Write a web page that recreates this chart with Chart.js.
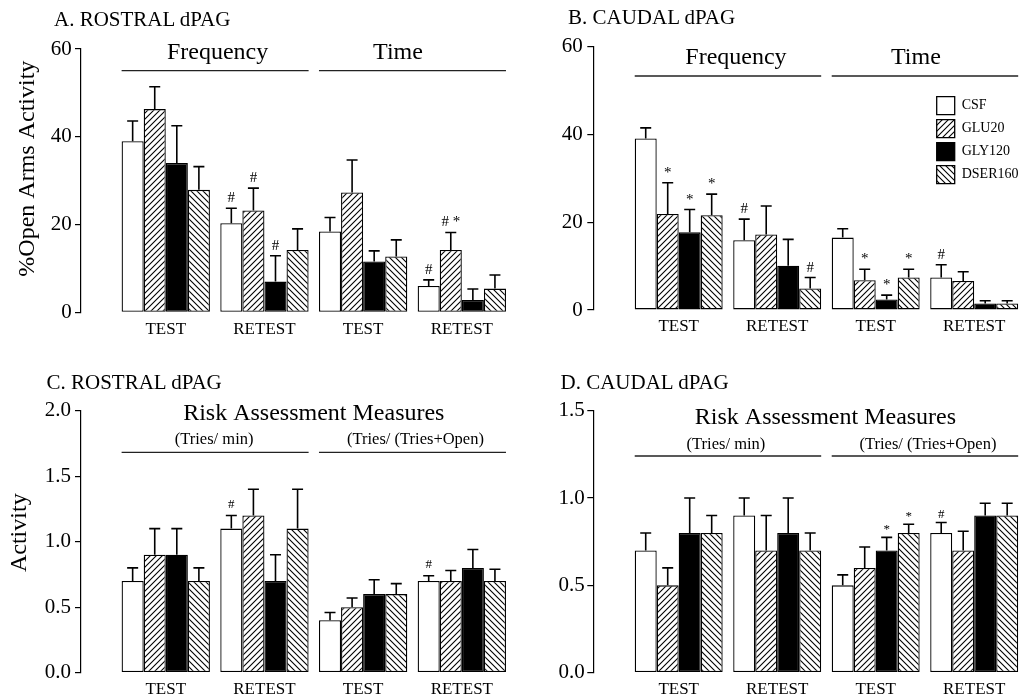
<!DOCTYPE html>
<html>
<head>
<meta charset="utf-8">
<script src="https://cdn.jsdelivr.net/npm/chart.js@4/dist/chart.umd.min.js"></script>
<style>
html, body { margin: 0; padding: 0; background: #fff; }
#wrap { position: relative; width: 1021px; height: 699px; overflow: hidden; background: #fff; }
#wrap canvas { position: absolute; }
.ptitle { position: absolute; font-family: "Liberation Serif", "Times New Roman", serif; font-size: 21px; line-height: 1; color: #000; white-space: nowrap; }
</style>
</head>
<body>
<div id="wrap">
  <canvas id="cA" width="510" height="340" style="left:0px;top:0px"></canvas>
  <canvas id="cB" width="511" height="340" style="left:510px;top:0px"></canvas>
  <canvas id="cC" width="510" height="359" style="left:0px;top:340px"></canvas>
  <canvas id="cD" width="511" height="359" style="left:510px;top:340px"></canvas>
  <div class="ptitle" style="left:54px;top:9px">A. ROSTRAL dPAG</div>
  <div class="ptitle" style="left:568px;top:7px">B. CAUDAL dPAG</div>
  <div class="ptitle" style="left:46.5px;top:372px">C. ROSTRAL dPAG</div>
  <div class="ptitle" style="left:560.5px;top:372px">D. CAUDAL dPAG</div>
</div>
<script>
// ---------- DATA ----------
const groups = ['CSF', 'GLU20', 'GLY120', 'DSER160'];
const tickLabels = ['TEST', 'RETEST', 'TEST', 'RETEST'];

// Panel A: ROSTRAL dPAG, % open arms activity (Frequency TEST, Frequency RETEST, Time TEST, Time RETEST)
const A_CSF = [39.0, 20.3, 18.4, 6.0];
const A_GLU20 = [46.3, 23.2, 27.3, 14.2];
const A_GLY120 = [34.0, 7.0, 11.6, 2.8];
const A_DSER160 = [27.9, 14.2, 12.7, 5.4];
const A_CSF_sem = [4.6, 3.4, 3.2, 1.4];
const A_GLU20_sem = [5.1, 5.1, 7.4, 4.0];
const A_GLY120_sem = [8.5, 5.9, 2.4, 2.5];
const A_DSER160_sem = [5.3, 4.8, 3.8, 3.1];
const A_CSF_marks = ['', '#', '', '#'];
const A_GLU20_marks = ['', '#', '', '# *'];
const A_GLY120_marks = ['', '#', '', ''];
const A_DSER160_marks = ['', '', '', ''];

// Panel B: CAUDAL dPAG, % open arms activity
const B_CSF = [39.1, 15.9, 16.5, 7.4];
const B_GLU20 = [21.9, 17.2, 6.8, 6.6];
const B_GLY120 = [17.7, 10.1, 2.4, 1.5];
const B_DSER160 = [21.6, 4.9, 7.4, 1.5];
const B_CSF_sem = [2.4, 4.8, 2.0, 2.9];
const B_GLU20_sem = [7.1, 6.5, 2.5, 2.1];
const B_GLY120_sem = [5.2, 6.0, 1.0, 0.6];
const B_DSER160_sem = [4.8, 2.5, 1.9, 0.6];
const B_CSF_marks = ['', '#', '', '#'];
const B_GLU20_marks = ['*', '', '*', ''];
const B_GLY120_marks = ['*', '', '*', ''];
const B_DSER160_marks = ['*', '#', '*', ''];

// Panel C: ROSTRAL dPAG, risk assessment (Tries/min TEST, RETEST; Tries/(Tries+Open) TEST, RETEST)
const C_CSF = [0.7, 1.1, 0.4, 0.7];
const C_GLU20 = [0.9, 1.2, 0.5, 0.7];
const C_GLY120 = [0.9, 0.7, 0.6, 0.8];
const C_DSER160 = [0.7, 1.1, 0.6, 0.7];
const C_CSF_sem = [0.1, 0.1, 0.06, 0.04];
const C_GLU20_sem = [0.2, 0.2, 0.07, 0.08];
const C_GLY120_sem = [0.2, 0.2, 0.11, 0.14];
const C_DSER160_sem = [0.1, 0.3, 0.08, 0.09];
const C_CSF_marks = ['', '#', '', '#'];
const C_GLU20_marks = ['', '', '', ''];
const C_GLY120_marks = ['', '', '', ''];
const C_DSER160_marks = ['', '', '', ''];

// Panel D: CAUDAL dPAG, risk assessment
const D_CSF = [0.7, 0.9, 0.5, 0.8];
const D_GLU20 = [0.5, 0.7, 0.6, 0.7];
const D_GLY120 = [0.8, 0.8, 0.7, 0.9];
const D_DSER160 = [0.8, 0.7, 0.8, 0.9];
const D_CSF_sem = [0.1, 0.1, 0.06, 0.06];
const D_GLU20_sem = [0.1, 0.2, 0.12, 0.11];
const D_GLY120_sem = [0.2, 0.2, 0.075, 0.07];
const D_DSER160_sem = [0.1, 0.1, 0.05, 0.07];
const D_CSF_marks = ['', '', '', '#'];
const D_GLU20_marks = ['', '', '', ''];
const D_GLY120_marks = ['', '', '*', ''];
const D_DSER160_marks = ['', '', '*', ''];

// ---------- STYLE ----------
const SERIF = '"Liberation Serif", "Times New Roman", serif';
Chart.defaults.font.family = SERIF;
Chart.defaults.color = '#000';

function hatch(dir) {
  const s = 6;
  const c = document.createElement('canvas');
  c.width = s; c.height = s;
  const g = c.getContext('2d');
  g.fillStyle = '#fff';
  g.fillRect(0, 0, s, s);
  g.strokeStyle = '#000';
  g.lineWidth = 1.1;
  g.beginPath();
  if (dir > 0) {
    g.moveTo(-1, s + 1); g.lineTo(s + 1, -1);
    g.moveTo(-1, 1); g.lineTo(1, -1);
    g.moveTo(s - 1, s + 1); g.lineTo(s + 1, s - 1);
  } else {
    g.moveTo(-1, -1); g.lineTo(s + 1, s + 1);
    g.moveTo(-1, s - 1); g.lineTo(1, s + 1);
    g.moveTo(s - 1, -1); g.lineTo(s + 1, 1);
  }
  g.stroke();
  return g.createPattern(c, 'repeat');
}
const fills = ['#ffffff', hatch(1), '#000000', hatch(-1)];

// ---------- PLUGINS ----------
const errorBars = {
  id: 'errorBars',
  afterDatasetsDraw(chart, args, opts) {
    const ctx = chart.ctx, ys = chart.scales.y;
    chart.data.datasets.forEach((ds, i) => {
      const meta = chart.getDatasetMeta(i);
      meta.data.forEach((bar, j) => {
        const v = ds.data[j].y, e = ds.sem[j];
        const yTop = ys.getPixelForValue(v + e);
        const x = bar.x, half = opts.cap / 2;
        ctx.save();
        ctx.strokeStyle = '#000';
        ctx.lineWidth = opts.lw;
        ctx.beginPath();
        ctx.moveTo(x, bar.y);
        ctx.lineTo(x, yTop);
        ctx.moveTo(x - half, yTop);
        ctx.lineTo(x + half, yTop);
        ctx.stroke();
        const m = ds.marks[j];
        if (m) {
          ctx.fillStyle = '#000';
          ctx.font = opts.markSize + 'px ' + SERIF;
          ctx.textAlign = 'center';
          ctx.textBaseline = 'alphabetic';
          ctx.fillText(m, x, yTop - opts.markGap);
        }
        ctx.restore();
      });
    });
  }
};

const headers = {
  id: 'headers',
  afterDraw(chart, args, opts) {
    const ctx = chart.ctx, top = chart.chartArea.top;
    const first = chart.getDatasetMeta(0);
    const last = chart.getDatasetMeta(chart.data.datasets.length - 1);
    (opts.items || []).forEach(h => {
      const b0 = first.data[h.from], b1 = last.data[h.to];
      const x0 = b0.x - b0.width / 2, x1 = b1.x + b1.width / 2;
      ctx.save();
      ctx.fillStyle = '#000';
      ctx.font = h.size + 'px ' + SERIF;
      ctx.textAlign = 'center';
      ctx.textBaseline = 'middle';
      ctx.fillText(h.text, (x0 + x1) / 2 + (h.dx || 0), top + h.ty);
      if (h.ly != null) {
        ctx.strokeStyle = '#222';
        ctx.lineWidth = 1.3;
        ctx.beginPath();
        ctx.moveTo(x0, top + h.ly);
        ctx.lineTo(x1, top + h.ly);
        ctx.stroke();
      }
      ctx.restore();
    });
  }
};

const placeLegend = {
  id: 'placeLegend',
  afterLayout(chart, args, opts) {
    const lg = chart.legend;
    if (!lg || !lg.options.display) return;
    const a = chart.chartArea;
    const w = lg.width, h = lg.height;
    lg.left = a.right - opts.dx;
    lg.top = a.top + opts.dy;
    lg.right = lg.left + w;
    lg.bottom = lg.top + h;
  }
};

function makePanel(cfg) {
  const datasets = groups.map((g, i) => ({
    label: g,
    data: cfg.values[i].map((v, j) => ({ x: j, y: v })),
    sem: cfg.sems[i],
    marks: cfg.marks[i],
    backgroundColor: fills[i],
    borderColor: '#000',
    borderWidth: 1.3,
    borderSkipped: false,
    categoryPercentage: cfg.catPct,
    barPercentage: 1.0
  }));
  return new Chart(document.getElementById(cfg.canvas), {
    type: 'bar',
    data: { datasets },
    plugins: [errorBars, headers, placeLegend],
    options: {
      responsive: false,
      animation: false,
      devicePixelRatio: 1,
      layout: { padding: { left: 0, top: cfg.top, right: cfg.right, bottom: 0 } },
      plugins: {
        tooltip: { enabled: false },
        legend: {
          display: !!cfg.legend,
          position: 'chartArea',
          align: 'start',
          labels: { boxWidth: 18, boxHeight: 18, padding: 5, color: '#000', font: { size: 14, family: SERIF } }
        },
        placeLegend: cfg.legend || { dx: 0, dy: 0 },
        errorBars: { cap: 11, lw: 1.6, markSize: cfg.markSize, markGap: cfg.markGap },
        headers: { items: cfg.headers }
      },
      scales: {
        x: {
          type: 'linear',
          min: cfg.xmin,
          max: cfg.xmax,
          offset: false,
          grid: { display: false, drawTicks: false },
          border: { display: false },
          afterBuildTicks: s => { s.ticks = tickLabels.map((_, i) => ({ value: i })); },
          afterFit: s => { s.height = cfg.xh; },
          ticks: {
            autoSkip: false, maxRotation: 0, padding: cfg.xPad, color: '#000',
            font: { size: 17, family: SERIF },
            callback: v => (tickLabels[v] !== undefined ? tickLabels[v] : '')
          }
        },
        y: {
          min: 0,
          max: cfg.ymax,
          afterFit: s => { s.width = cfg.yw; },
          ticks: {
            stepSize: cfg.step, padding: cfg.tickPad, color: '#000',
            font: { size: 21, family: SERIF },
            callback: v => v.toFixed(cfg.dec)
          },
          grid: { display: true, drawOnChartArea: false, drawTicks: true, tickLength: 6, color: '#000', lineWidth: 1.2 },
          border: { display: true, color: '#000', width: 1.2 },
          title: {
            display: !!cfg.ytitle, text: cfg.ytitle || '', color: '#000',
            font: { size: 24, family: SERIF }, padding: { top: cfg.ytpad || 0, bottom: 0 }
          }
        }
      }
    }
  });
}

makePanel({
  canvas: 'cA',
  values: [A_CSF, A_GLU20, A_GLY120, A_DSER160],
  sems: [A_CSF_sem, A_GLU20_sem, A_GLY120_sem, A_DSER160_sem],
  marks: [A_CSF_marks, A_GLU20_marks, A_GLY120_marks, A_DSER160_marks],
  ymax: 60, step: 20, dec: 0, yw: 81, top: 49, right: 2, xh: 27.7,
  xmin: -0.859, xmax: 3.468, catPct: 0.895,
  ytitle: '    %Open Arms Activity', ytpad: 13,
  tickPad: 3.3, xPad: 7.5, markSize: 15, markGap: 6,
  headers: [
    { text: 'Frequency', from: 0, to: 1, size: 24, ty: 4, ly: 21.7, dx: 2.5 },
    { text: 'Time', from: 2, to: 3, size: 24, ty: 4, ly: 21.7, dx: -14.5 }
  ]
});

makePanel({
  canvas: 'cB',
  values: [B_CSF, B_GLU20, B_GLY120, B_DSER160],
  sems: [B_CSF_sem, B_GLU20_sem, B_GLY120_sem, B_DSER160_sem],
  marks: [B_CSF_marks, B_GLU20_marks, B_GLY120_marks, B_DSER160_marks],
  ymax: 60, step: 20, dec: 0, yw: 83.3, top: 46.7, right: 1, xh: 30,
  xmin: -0.867, xmax: 3.465, catPct: 0.893,
  ytitle: '',
  tickPad: 4.6, xPad: 6.5, markSize: 15, markGap: 6,
  legend: { dx: 88.3, dy: 45 },
  headers: [
    { text: 'Frequency', from: 0, to: 1, size: 24, ty: 10.6, ly: 29.3, dx: 8 },
    { text: 'Time', from: 2, to: 3, size: 24, ty: 10.6, ly: 29.3, dx: -9 }
  ]
});

makePanel({
  canvas: 'cC',
  values: [C_CSF, C_GLU20, C_GLY120, C_DSER160],
  sems: [C_CSF_sem, C_GLU20_sem, C_GLY120_sem, C_DSER160_sem],
  marks: [C_CSF_marks, C_GLU20_marks, C_GLY120_marks, C_DSER160_marks],
  ymax: 2.0, step: 0.5, dec: 1, yw: 81, top: 70.7, right: 2, xh: 26.3,
  xmin: -0.859, xmax: 3.468, catPct: 0.895,
  ytitle: '   Activity', ytpad: 4.9,
  tickPad: 4, xPad: 7, markSize: 13, markGap: 8,
  headers: [
    { text: 'Risk Assessment Measures', from: 0, to: 3, size: 24, ty: 2.6, dx: 0 },
    { text: '(Tries/ min)', from: 0, to: 1, size: 16.5, ty: 29.3, ly: 41.6, dx: -1 },
    { text: '(Tries/ (Tries+Open)', from: 2, to: 3, size: 16.5, ty: 29.3, ly: 41.6, dx: 3 }
  ]
});

makePanel({
  canvas: 'cD',
  values: [D_CSF, D_GLU20, D_GLY120, D_DSER160],
  sems: [D_CSF_sem, D_GLU20_sem, D_GLY120_sem, D_DSER160_sem],
  marks: [D_CSF_marks, D_GLU20_marks, D_GLY120_marks, D_DSER160_marks],
  ymax: 1.5, step: 0.5, dec: 1, yw: 83.3, top: 70.7, right: 1, xh: 26.3,
  xmin: -0.867, xmax: 3.465, catPct: 0.893,
  ytitle: '',
  tickPad: 2.5, xPad: 7, markSize: 13, markGap: 4,
  headers: [
    { text: 'Risk Assessment Measures', from: 0, to: 3, size: 24, ty: 6.6, dx: -1 },
    { text: '(Tries/ min)', from: 0, to: 1, size: 16.5, ty: 33.6, ly: 45.3, dx: -2 },
    { text: '(Tries/ (Tries+Open)', from: 2, to: 3, size: 16.5, ty: 33.6, ly: 45.3, dx: 3 }
  ]
});
</script>
</body>
</html>
